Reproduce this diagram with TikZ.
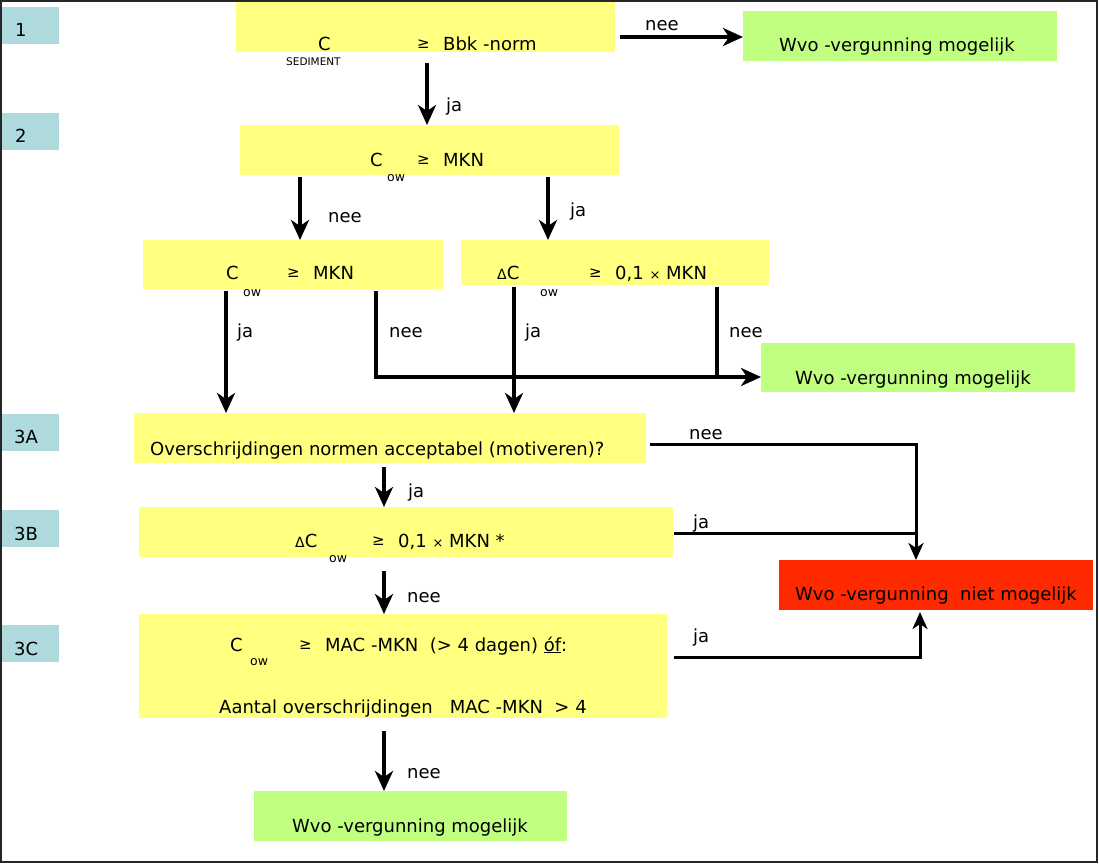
\documentclass[tikz,border=0pt]{standalone}
\usepackage{fontspec}
\setmainfont{DejaVu Sans}
\usetikzlibrary{arrows.meta,calc}
\definecolor{yel}{RGB}{255,255,128}
\definecolor{grn}{RGB}{192,255,128}
\definecolor{redb}{RGB}{255,42,0}
\definecolor{tabc}{RGB}{174,218,222}
\newcommand{\smx}{{\fontsize{13}{14}\selectfont ×}}
\newcommand{\dlt}{{\fontsize{14}{14}\selectfont Δ}}
\begin{document}
\begin{tikzpicture}[x=1pt,y=-1pt,
  font=\fontsize{18}{21}\selectfont,
  yb/.style={fill=yel,inner sep=0pt,outer sep=0pt},
  gb/.style={fill=grn,inner sep=0pt,outer sep=0pt},
  rb/.style={fill=redb,inner sep=0pt,outer sep=0pt},
  tb/.style={fill=tabc,inner sep=0pt,outer sep=0pt,minimum width=57pt,minimum height=37pt},
  txt/.style={inner sep=0pt,anchor=base west},
  ctxt/.style={inner sep=0pt,anchor=base},
  sub/.style={inner sep=0pt,anchor=base west,font=\fontsize{12.5}{14}\selectfont},
  ge/.style={inner sep=0pt,anchor=base west,font=\fontsize{15}{16}\selectfont},
  arr/.style={line width=4pt,-{Stealth[length=20pt,width=18pt,inset=6pt]}},
  arrt/.style={line width=3pt,-{Stealth[length=17pt,width=15pt,inset=5pt]}},
  ln/.style={line width=4pt},
  lnt/.style={line width=3pt}]
\useasboundingbox (0,0) rectangle (1099,864);
\draw[line width=2.2pt,draw=black!85] (1,1) rectangle (1097,862);

% step tabs
\node[tb] (s1) at (30.5,25.5) {};
\node[txt] (s1t) at (15,37) {1};
\node[tb] (s2) at (30.5,131.5) {};
\node[txt] (s2t) at (15,142) {2};
\node[tb] (s3a) at (30.5,432) {};
\node[txt] (s3at) at (14,443) {3A};
\node[tb] (s3b) at (30.5,528.5) {};
\node[txt] (s3bt) at (14,540) {3B};
\node[tb] (s3c) at (30.5,643.5) {};
\node[txt] (s3ct) at (14,655) {3C};

% boxes
\node[yb,minimum width=379pt,minimum height=50pt] (b1) at (425.5,27) {};
\node[gb,minimum width=314pt,minimum height=50pt] (g1) at (900,36) {};
\node[yb,minimum width=379pt,minimum height=50pt] (b2) at (429.5,150) {};
\node[yb,minimum width=300pt,minimum height=49pt] (b2l) at (293,264.5) {};
\node[yb,minimum width=308pt,minimum height=45pt] (b2r) at (615,262.5) {};
\node[gb,minimum width=314pt,minimum height=49pt] (g2) at (918,367.5) {};
\node[yb,minimum width=512pt,minimum height=50pt] (b3a) at (390,438) {};
\node[yb,minimum width=534pt,minimum height=50pt] (b3b) at (406,532) {};
\node[rb,minimum width=314pt,minimum height=50pt] (r1) at (936,585) {};
\node[yb,minimum width=528pt,minimum height=104pt] (b3c) at (403,666) {};
\node[gb,minimum width=313pt,minimum height=50pt] (g3) at (410.5,816) {};

% texts box 1
\node[txt] (t1a) at (318,51) {C};
\node[sub,font=\fontsize{10.5}{12}\selectfont] (t1b) at (286,66) {SEDIMENT};
\node[ge] (t1c) at (417,49) {≥};
\node[txt] (t1d) at (443,51) {Bbk -norm};
\node[ctxt] (tg1) at (897,52) {Wvo -vergunning mogelijk};
% box 2
\node[txt] (t2a) at (370,166) {C};
\node[sub] (t2b) at (387,181) {ow};
\node[ge] (t2c) at (417,164) {≥};
\node[txt] (t2d) at (443,166) {MKN};
% box 2l
\node[txt] (t3a) at (226,279) {C};
\node[sub] (t3b) at (243,296) {ow};
\node[ge] (t3c) at (287,277) {≥};
\node[txt] (t3d) at (313,279) {MKN};
% box 2r
\node[txt] (t4a) at (497,279) {\dlt C};
\node[sub] (t4b) at (540,296) {ow};
\node[ge] (t4c) at (589,277) {≥};
\node[txt] (t4d) at (615,279) {0,1 \smx{} MKN};
\node[ctxt] (tg2) at (913,384) {Wvo -vergunning mogelijk};
% box 3a
\node[txt] (t5) at (150,455) {Overschrijdingen normen acceptabel (motiveren)?};
% box 3b
\node[txt] (t6a) at (295,547) {\dlt C};
\node[sub] (t6b) at (329,562) {ow};
\node[ge] (t6c) at (372,545) {≥};
\node[txt] (t6d) at (398,547) {0,1 \smx{} MKN *};
\node[ctxt] (tr1) at (936,600) {Wvo -vergunning\ \ niet mogelijk};
% box 3c
\node[txt] (t7a) at (230,651) {C};
\node[sub] (t7b) at (250,665) {ow};
\node[ge] (t7c) at (299,649) {≥};
\node[txt] (t7d) at (325,651) {MAC -MKN\ \ (> 4 dagen) \underline{óf}:};
\node[txt] (t7e) at (219,713) {Aantal overschrijdingen\ \ \ MAC -MKN\ \ > 4};
\node[ctxt] (tg3) at (410,832) {Wvo -vergunning mogelijk};

% connectors
\coordinate (c1) at ($(b1.east)+(5,10)$);
\draw[arr] (c1) -- (c1 -| g1.west);
\node[txt] (l1) at (645,31) {nee};

\coordinate (c2) at ($(b1.south)+(1.5,11)$);
\draw[arr] (c2) -- (c2 |- b2.north);
\node[txt] (l2) at (446,112) {ja};

\coordinate (c3) at ($(b2.south)+(-129.5,2)$);
\draw[arr] (c3) -- (c3 |- b2l.north);
\node[txt] (l3) at (328,222) {nee};

\coordinate (c4) at ($(b2.south)+(118.5,2)$);
\draw[arr] (c4) -- (c4 |- b2r.north);
\node[txt] (l4) at (570,216) {ja};

\coordinate (c5) at ($(b2l.south)+(-67,2)$);
\draw[arr] (c5) -- (c5 |- b3a.north);
\node[txt] (l5) at (237,337) {ja};

\coordinate (c6) at ($(b2l.south)+(83,2)$);
\coordinate (c6b) at ($(g2.west)+(0,9.5)$);
\draw[arr] (c6) |- (c6b);
\node[txt] (l6) at (389,337) {nee};

\coordinate (c7) at ($(b2r.south)+(-101,2)$);
\draw[arr] (c7) -- (c7 |- b3a.north);
\node[txt] (l7) at (525,337) {ja};

\coordinate (c8) at ($(b2r.south)+(102,2)$);
\draw[ln] (c8) -- (c8 |- c6b);
\node[txt] (l8) at (729,337) {nee};

\coordinate (c9) at ($(b3a.east)+(4,6)$);
\coordinate (c9b) at ($(r1.north)+(-20,0)$);
\draw[arrt] (c9) -| (c9b);
\node[txt] (l9) at (689,439) {nee};

\coordinate (c10) at ($(b3a.south)+(-6,4)$);
\draw[arr] (c10) -- (c10 |- b3b.north);
\node[txt] (l10) at (408,497) {ja};

\coordinate (c11) at ($(b3b.east)+(1,1)$);
\draw[lnt] (c11) -- (c11 -| c9b);
\node[txt] (l11) at (693,528) {ja};

\coordinate (c12) at ($(b3b.south)+(-22,14)$);
\draw[arr] (c12) -- (c12 |- b3c.north);
\node[txt] (l12) at (407,602) {nee};

\coordinate (c13) at ($(b3c.east)+(7,-9)$);
\coordinate (c13b) at ($(r1.south)+(-16,2)$);
\draw[arrt] (c13) -| (c13b);
\node[txt] (l13) at (693,642) {ja};

\coordinate (c14) at ($(b3c.south)+(-19,13)$);
\draw[arr] (c14) -- (c14 |- g3.north);
\node[txt] (l14) at (407,778) {nee};
\end{tikzpicture}
\end{document}
